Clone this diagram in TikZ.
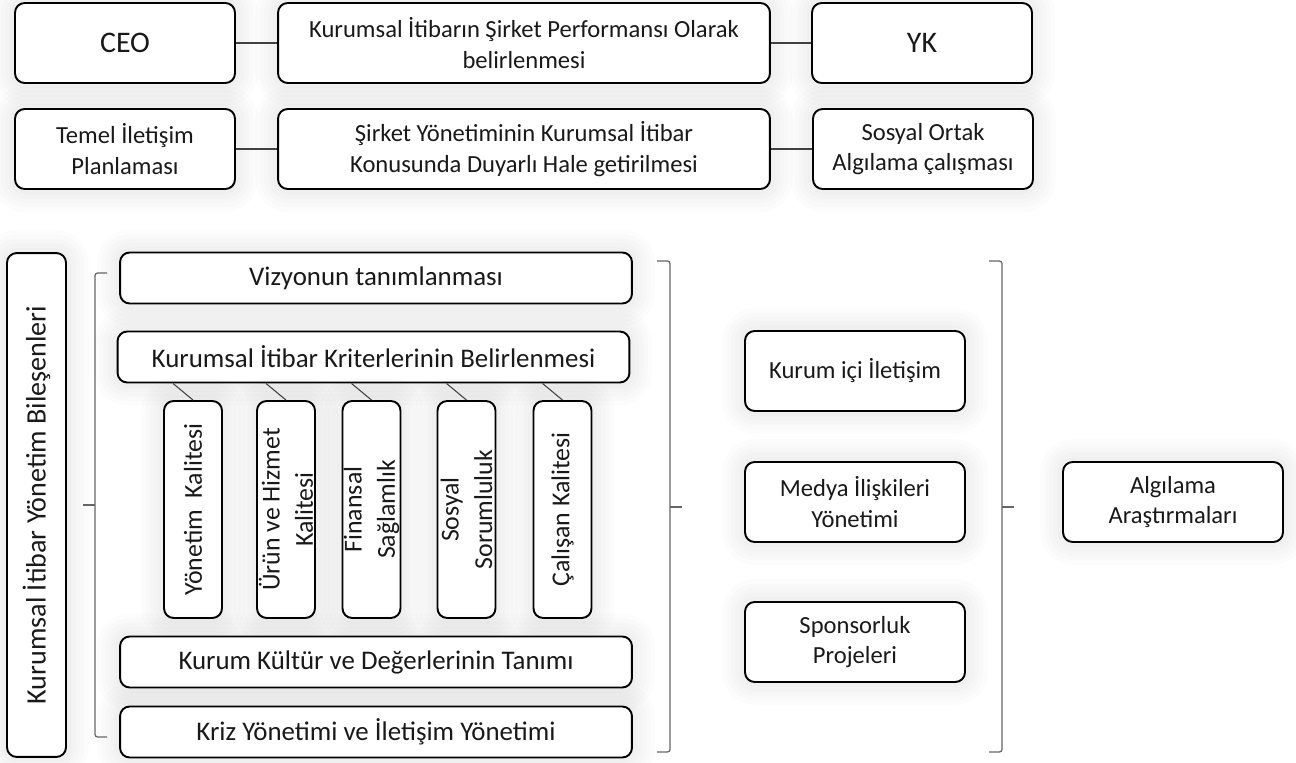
\documentclass[tikz,border=0pt]{standalone}
\usepackage{fontspec}
\setmainfont{Carlito}
\usetikzlibrary{positioning, calc}

\begin{document}
\begin{tikzpicture}[
    x=0.02cm, y=-0.02cm, line join=round,
    kutu/.style={draw=black, line width=1.1pt, rounded corners=5.5pt, fill=white,
      align=center, inner sep=2pt, text=black!90, font=\fontsize{14}{17.5}\selectfont,
      preaction={draw=black, draw opacity=0.012, line width=26pt},
      preaction={draw=black, draw opacity=0.012, line width=21pt},
      preaction={draw=black, draw opacity=0.012, line width=16pt},
      preaction={draw=black, draw opacity=0.012, line width=11pt},
      preaction={draw=black, draw opacity=0.012, line width=6pt}},
    kare/.style={kutu, minimum width=4.4cm, minimum height=1.6cm},
    genis/.style={kutu, minimum width=10.24cm, minimum height=1.02cm, font=\fontsize{15.3}{18}\selectfont},
    dikey/.style={kutu, rotate=90, minimum width=4.34cm, minimum height=1.16cm, inner ysep=0pt,
      font=\fontsize{14.7}{19}\selectfont},
    bag/.style={draw=black!75, line width=0.6pt},
    ayrac/.style={draw=black!60, line width=0.7pt, rounded corners=1.5pt},
  ]
  \fill[white] (0,0) rectangle (1296,763);
  \useasboundingbox (0,0) rectangle (1296,763);

  % üst iki sıra
  \node[kare, font=\fontsize{17}{20}\selectfont] (ceo) at (125,43) {CEO};
  \node[kutu, minimum width=9.84cm, minimum height=1.6cm] (perf) at (524,43)
    {Kurumsal İtibarın Şirket Performansı Olarak\\belirlenmesi};
  \node[kare, font=\fontsize{17}{20}\selectfont] (yk) at (922,43) {YK};
  \node[kare] (temel) at (125,149) {Temel İletişim\\Planlaması};
  \node[kutu, minimum width=9.84cm, minimum height=1.6cm] (duyarli) at (524,149)
    {Şirket Yönetiminin Kurumsal İtibar\\Konusunda Duyarlı Hale getirilmesi};
  \node[kare] (ortak) at (923,149) {Sosyal Ortak\\Algılama çalışması};
  \draw[bag] (ceo) -- (perf);
  \draw[bag] (perf) -- (yk);
  \draw[bag] (temel) -- (duyarli);
  \draw[bag] (duyarli) -- (ortak);

  % bileşenler
  \node[kutu, rotate=90, minimum width=10.08cm, minimum height=1.18cm,
    font=\fontsize{16}{19}\selectfont] (bilesen) at (36.5,505) {Kurumsal İtibar Yönetim Bileşenleri};
  \node[genis] (vizyon) at (376,278) {Vizyonun tanımlanması};
  \node[genis] (kriter) at (373.5,357) {Kurumsal İtibar Kriterlerinin Belirlenmesi};
  \foreach \ad/\x/\metin in {k1/193/{Yönetim\ \ Kalitesi}, k2/286/{Ürün ve Hizmet\\Kalitesi},
      k3/371.5/{Finansal\\Sağlamlık}, k4/466.5/{Sosyal\\Sorumluluk}, k5/562.5/{Çalışan Kalitesi}} {
    \node[dikey] (\ad) at (\x,509.5) {\metin};
    \draw[bag] (\ad.east) -- ([xshift=-0.4cm]\ad.east |- kriter.south);
  }
  \node[genis] (kultur) at (376,662) {Kurum Kültür ve Değerlerinin Tanımı};
  \node[genis] (kriz) at (376,732) {Kriz Yönetimi ve İletişim Yönetimi};

  % sol parantez
  \draw[ayrac] (107,273) -- (95,273) -- (95,737) -- (107,737);
  \draw[ayrac] (95,505) -- (83,505);

  % iletişim kanalları
  \node[kare] (ici) at (855,371) {Kurum içi İletişim};
  \node[kare] (medya) at (855,502) {Medya İlişkileri\\Yönetimi};
  \node[kare] (sponsor) at (855,642) {Sponsorluk\\Projeleri};
  \node[kare] (algi) at (1173,502) {Algılama\\Araştırmaları};

  % sağ parantezler
  \foreach \bx in {670,1002} {
    \draw[ayrac] (\bx-13,261) -- (\bx,261) -- (\bx,752) -- (\bx-13,752);
    \draw[ayrac] (\bx,507) -- (\bx+12,507);
  }
\end{tikzpicture}
\end{document}
